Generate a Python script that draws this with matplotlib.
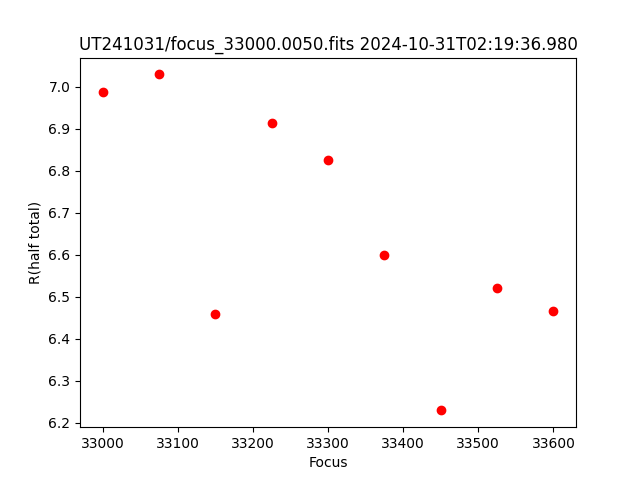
import matplotlib
matplotlib.use("Agg")
import matplotlib.pyplot as plt

focus = [33000, 33075, 33150, 33225, 33300, 33375, 33450, 33525, 33600]
r_half = [6.987, 7.030, 6.460, 6.913, 6.825, 6.599, 6.229, 6.520, 6.467]

fig, ax = plt.subplots(figsize=(6.4, 4.8), dpi=100)
ax.plot(focus, r_half, 'ro')
ax.set_xlabel("Focus")
ax.set_ylabel("R(half total)")
ax.set_title("UT241031/focus_33000.0050.fits 2024-10-31T02:19:36.980")
fig.savefig("out.png")
